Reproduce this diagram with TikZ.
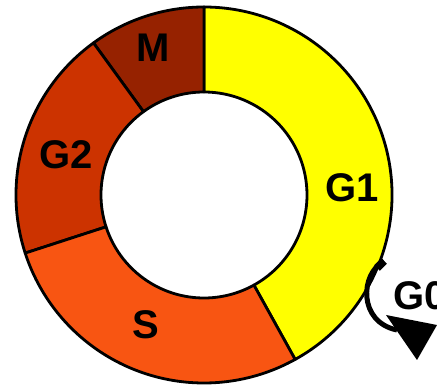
\documentclass[tikz,border=0pt]{standalone}
\usepackage{fontspec}
\setmainfont{Liberation Sans}
\definecolor{ringYellow}{HTML}{FFFF00}
\definecolor{ringMaroon}{HTML}{962200}
\definecolor{ringRust}{HTML}{CC3300}
\definecolor{ringOrange}{HTML}{F85512}
\begin{document}
\begin{tikzpicture}[x=1pt,y=1pt,
  sector/.style={draw=black, line width=2.8pt, line join=round},
  lbl/.style={font=\fontsize{40}{40}\selectfont\bfseries, inner sep=0pt}]
\useasboundingbox (0,0) rectangle (437,386);
\clip (0,0) rectangle (437,386);
\def\ringout{188}
\def\ringin{103}
% ring sectors, counter-clockwise from the lower right
\begin{scope}[shift={(204,191)}]
  \foreach \a/\b/\c in {-61/90/ringYellow, 90/126/ringMaroon, 126/198/ringRust, 198/299/ringOrange}
    \filldraw[sector, fill=\c] (\a:\ringout) arc[start angle=\a, end angle=\b, radius=\ringout]
      -- (\b:\ringin) arc[start angle=\b, end angle=\a, radius=\ringin] -- cycle;
\end{scope}
% sector labels
\node[lbl] (m)  at (153,338) {M};
\node[lbl] (g2) at (66,231)  {G2};
\node[lbl] (g1) at (352,198) {G1};
\node[lbl] (s)  at (146,61)  {S};
\node[lbl, anchor=west] (g0) at (393,90) {G0};
% circular arrow, thicker at its tail
\coordinate (arrowstart) at (384,125);
\coordinate (arrowend) at (397,56);
\draw[line width=5pt] (arrowstart) .. controls (360,112) and (358,64) .. (arrowend);
\draw[line width=8pt] (arrowstart) -- ++(-7,-7);
\fill (386,71) -- (437,61) -- (417,26) -- cycle;
\end{tikzpicture}
\end{document}
